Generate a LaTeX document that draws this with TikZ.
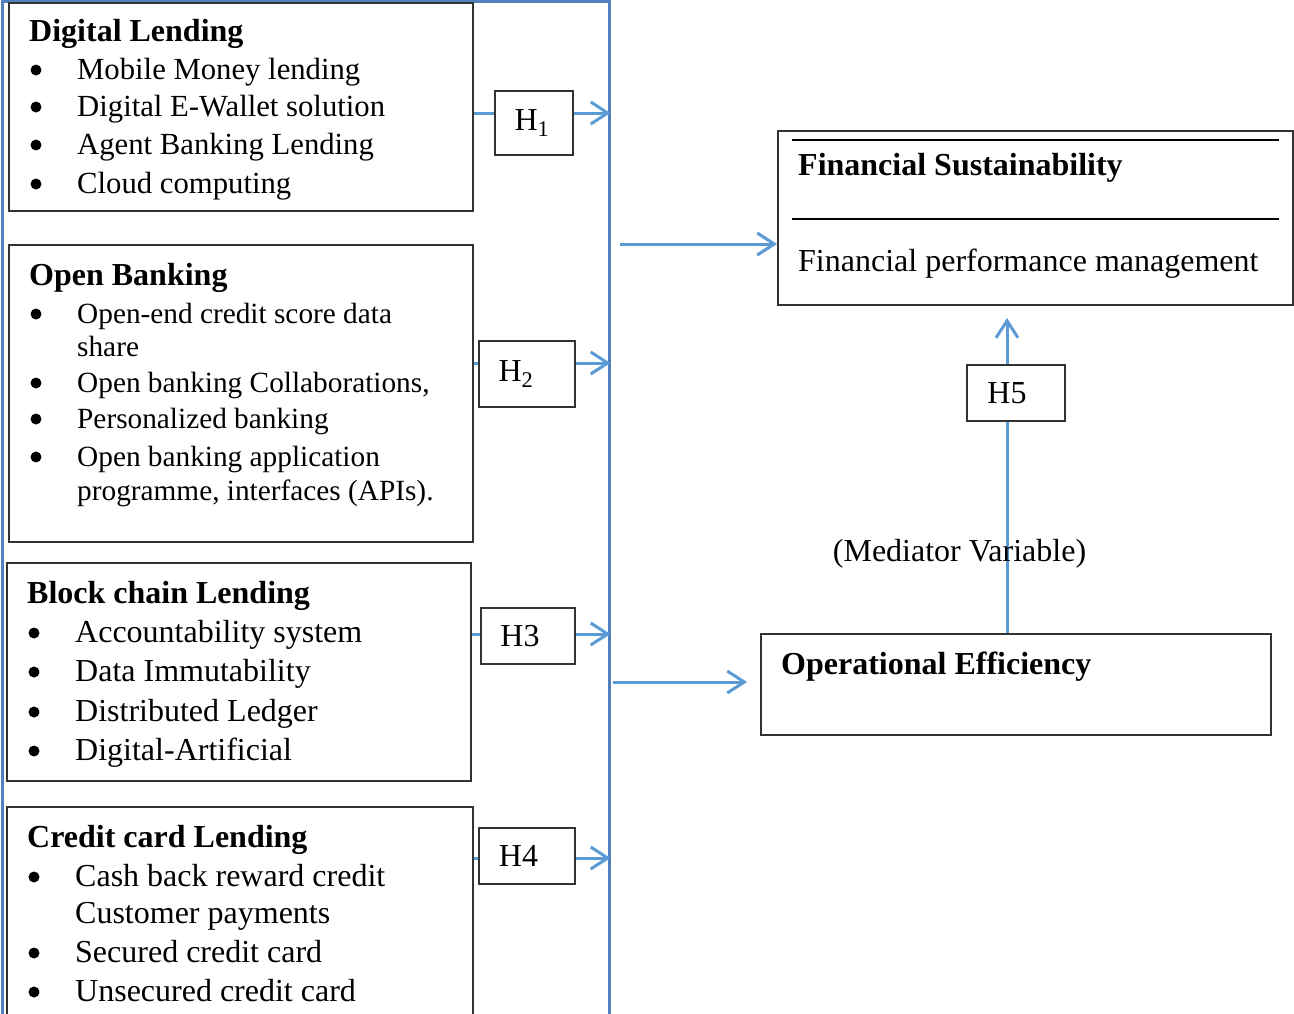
\documentclass[tikz,border=0pt]{standalone}
\usepackage{fontspec}
\setmainfont{Liberation Serif}
\usetikzlibrary{arrows.meta}
\definecolor{frameblue}{RGB}{79,129,189}
\definecolor{linkblue}{RGB}{91,155,213}

\begin{document}
\begin{tikzpicture}[x=1pt,y=-1pt,
	every node/.style={font=\fontsize{32}{38}\selectfont},
	box/.style={draw=black!80,line width=2pt,inner sep=0pt},
	hbox/.style={draw=black!80,line width=2pt,fill=white,inner sep=0pt},
	txt/.style={anchor=base west,inner sep=0pt},
	txta/.style={txt,font=\fontsize{30.7}{37}\selectfont},
	txtb/.style={txt,font=\fontsize{29.3}{35}\selectfont},
	head/.style={txt,font=\fontsize{32}{38}\selectfont\bfseries},
	dot/.style={circle,fill=black,inner sep=0pt,minimum size=11pt},
	link/.style={draw=linkblue,line width=3pt},
	harrow/.style={link,-{Straight Barb[length=17pt,width=22pt,line width=3pt]}}]

	\useasboundingbox (0,0) rectangle (1294,1013);

	\node 	(frame)	at	(305.5,511)	[draw=frameblue,line width=3pt,minimum width=607pt,minimum height=1020pt]{};

	\node 	(b1)	at	(241,107)	[box,minimum width=464pt,minimum height=208pt]{};
	\node 	(b2)	at	(241,393.5)	[box,minimum width=464pt,minimum height=297pt]{};
	\node 	(b3)	at	(239,672)	[box,minimum width=464pt,minimum height=218pt]{};
	\node 	(b4)	at	(240,916)	[box,minimum width=466pt,minimum height=218pt]{};

	\node 	(h1)	at	(534,123)	[hbox,minimum width=78pt,minimum height=64pt]{H\textsubscript{1}\kern4pt};
	\node 	(h2)	at	(527,374)	[hbox,minimum width=96pt,minimum height=66pt]{H\textsubscript{2}\kern22pt};
	\node 	(h3)	at	(528,636)	[hbox,minimum width=94pt,minimum height=56pt]{H3\kern16pt};
	\node 	(h4)	at	(527,856)	[hbox,minimum width=96pt,minimum height=56pt]{H4\kern17pt};

	\node 	(fs)	at	(1035.5,218)	[box,minimum width=515pt,minimum height=174pt]{};
	\node 	(oe)	at	(1016,684.5)	[box,minimum width=510pt,minimum height=101pt]{};

	% Digital Lending
	\node 	(t1)	at	(29,41)	[head]{Digital Lending};
	\node 	(d11)	at	(36,70)	[dot]{};
	\node 	(i11)	at	(77,79)	[txta]{Mobile Money lending};
	\node 	(d12)	at	(36,107)	[dot]{};
	\node 	(i12)	at	(77,116)	[txta]{Digital E-Wallet solution};
	\node 	(d13)	at	(36,145)	[dot]{};
	\node 	(i13)	at	(77,154)	[txta]{Agent Banking Lending};
	\node 	(d14)	at	(36,184)	[dot]{};
	\node 	(i14)	at	(77,193)	[txta]{Cloud computing};

	% Open Banking
	\node 	(t2)	at	(29,285)	[head]{Open Banking};
	\node 	(d21)	at	(36,314)	[dot]{};
	\node 	(i21)	at	(77,323)	[txtb]{Open-end credit score data};
	\node 	(i21b)	at	(77,356)	[txtb]{share};
	\node 	(d22)	at	(36,383)	[dot]{};
	\node 	(i22)	at	(77,392)	[txtb]{Open banking Collaborations,};
	\node 	(d23)	at	(36,419)	[dot]{};
	\node 	(i23)	at	(77,428)	[txtb]{Personalized banking};
	\node 	(d24)	at	(36,457)	[dot]{};
	\node 	(i24)	at	(77,466)	[txtb]{Open banking application};
	\node 	(i24b)	at	(77,500)	[txtb]{programme, interfaces (APIs).};

	% Block chain Lending
	\node 	(t3)	at	(27,603)	[head]{Block chain Lending};
	\node 	(d31)	at	(34,633)	[dot]{};
	\node 	(i31)	at	(75,642)	[txt]{Accountability system};
	\node 	(d32)	at	(34,672)	[dot]{};
	\node 	(i32)	at	(75,681)	[txt]{Data Immutability};
	\node 	(d33)	at	(34,712)	[dot]{};
	\node 	(i33)	at	(75,721)	[txt]{Distributed Ledger};
	\node 	(d34)	at	(34,751)	[dot]{};
	\node 	(i34)	at	(75,760)	[txt]{Digital-Artificial};

	% Credit card Lending
	\node 	(t4)	at	(27,847)	[head]{Credit card Lending};
	\node 	(d41)	at	(34,877)	[dot]{};
	\node 	(i41)	at	(75,886)	[txt]{Cash back reward credit};
	\node 	(i41b)	at	(75,923)	[txt]{Customer payments};
	\node 	(d42)	at	(34,953)	[dot]{};
	\node 	(i42)	at	(75,962)	[txt]{Secured credit card};
	\node 	(d43)	at	(34,992)	[dot]{};
	\node 	(i43)	at	(75,1001)	[txt]{Unsecured credit card};

	% right side
	\node 	(t5)	at	(798,175)	[head]{Financial Sustainability};
	\node 	(i51)	at	(798,271)	[txt]{Financial performance management};
	\draw[line width=2.5pt]	([xshift=15pt,yshift=-10pt]fs.north west)	--	([xshift=-15pt,yshift=-10pt]fs.north east);
	\draw[line width=2.5pt]	([xshift=15pt,yshift=-89pt]fs.north west)	--	([xshift=-15pt,yshift=-89pt]fs.north east);

	\node 	(t6)	at	(781,674)	[head]{Operational Efficiency};

	\coordinate	(m5)	at	(1007,318);
	\draw[harrow]	(oe.north -| m5)	to	(m5);
	\node 	(h5)	at	(1016,393)	[hbox,minimum width=98pt,minimum height=56pt]{H5\kern18pt};
	\node 	(med)	at	(959.5,561)	[anchor=base]{(Mediator Variable)};

	% hypothesis links
	\draw[link]	([yshift=10pt]h1.west -| b1.east)	to	([yshift=10pt]h1.west);
	\draw[link]	([yshift=11pt]h2.west -| b2.east)	to	([yshift=11pt]h2.west);
	\draw[link]	([yshift=2pt]h3.west -| b3.east)	to	([yshift=2pt]h3.west);
	\draw[link]	([yshift=-2pt]h4.west -| b4.east)	to	([yshift=-2pt]h4.west);

	\draw[harrow]	([yshift=10pt]h1.east)	to	([yshift=10pt]h1.east -| frame.east);
	\draw[harrow]	([yshift=11pt]h2.east)	to	([yshift=11pt]h2.east -| frame.east);
	\draw[harrow]	([yshift=2pt]h3.east)	to	([yshift=2pt]h3.east -| frame.east);
	\draw[harrow]	([yshift=-2pt]h4.east)	to	([yshift=-2pt]h4.east -| frame.east);

	\coordinate	(s1)	at	(620,244);
	\draw[harrow]	(s1)	to	(s1 -| fs.west);
	\coordinate	(s2)	at	(613,682);
	\draw[harrow]	(s2)	to	([xshift=-13pt]s2 -| oe.west);

\end{tikzpicture}
\end{document}
